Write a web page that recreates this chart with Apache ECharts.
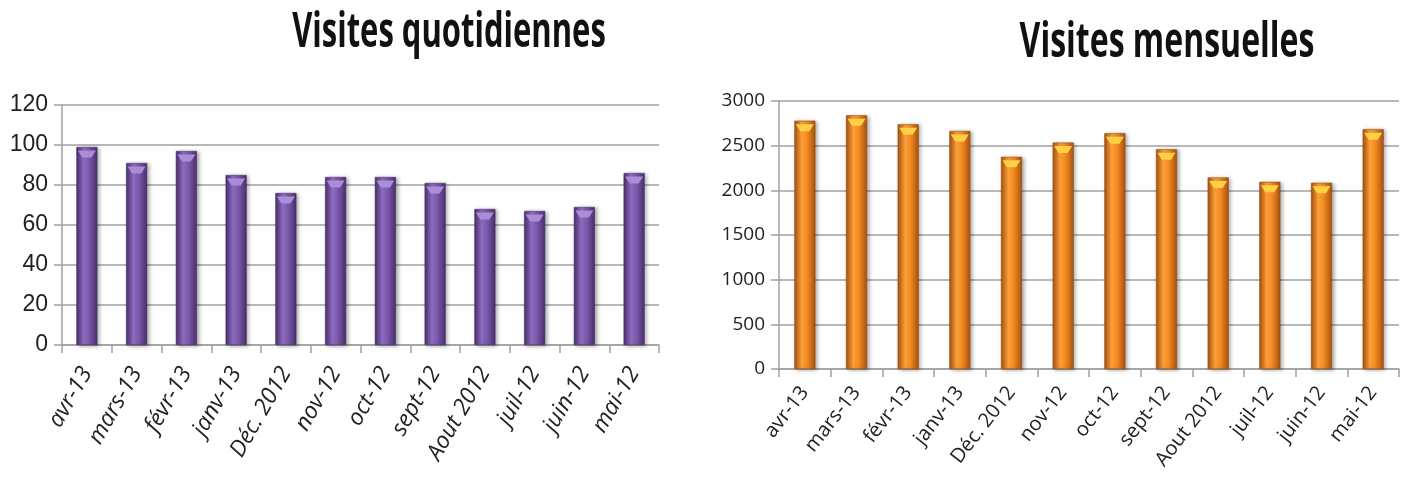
<!DOCTYPE html>
<html>
<head>
<meta charset="utf-8">
<title>Visites</title>
<script src="https://cdn.jsdelivr.net/npm/echarts@6/dist/echarts.min.js"></script>
<style>
  html, body { margin: 0; padding: 0; background: #fff; }
  #chart { width: 1406px; height: 485px; }
</style>
</head>
<body>
<div id="chart"></div>
<script>
  // mois, du plus récent au plus ancien
  var categories = ['avr-13', 'mars-13', 'févr-13', 'janv-13', 'Déc. 2012', 'nov-12',
    'oct-12', 'sept-12', 'Aout 2012', 'juil-12', 'juin-12', 'mai-12'];
  var dailyVisits = [99, 91, 97, 85, 76, 84, 84, 81, 68, 67, 69, 86];
  var monthlyVisits = [2780, 2840, 2740, 2665, 2375, 2535, 2640, 2460, 2145, 2095, 2085, 2685];

  var chart = echarts.init(document.getElementById('chart'));

  function barGradient(edge, mid, light) {
    return new echarts.graphic.LinearGradient(0, 0, 1, 0, [
      { offset: 0, color: edge },
      { offset: 0.35, color: light },
      { offset: 0.6, color: mid },
      { offset: 1, color: edge }
    ]);
  }

  var gridLine = { show: true, lineStyle: { color: '#a0a0a0', width: 1.5 } };
  var axisGray = { show: true, lineStyle: { color: '#a0a0a0', width: 1.5 } };
  var tickGray = { show: true, length: 8, lineStyle: { color: '#a0a0a0', width: 1.5 } };
  var capPath = 'path://M0,0 L10,0 L7.5,6 L2.5,6 Z';

  chart.setOption({
    animation: false,
    // titres étirés en hauteur comme dans l'original
    graphic: [{
      type: 'text', x: 449, y: 33, scaleY: 1.55,
      style: {
        text: 'Visites quotidiennes', textAlign: 'center', textVerticalAlign: 'middle',
        font: 'bold 31px "Open Sans"', fill: '#111'
      }
    }, {
      type: 'text', x: 1167, y: 43, scaleY: 1.5,
      style: {
        text: 'Visites mensuelles', textAlign: 'center', textVerticalAlign: 'middle',
        font: 'bold 32px "Open Sans"', fill: '#111'
      }
    }],
    grid: [
      { left: 62, right: 747, top: 105, bottom: 140 },
      { left: 779, right: 7, top: 101, bottom: 116 }
    ],
    xAxis: [{
      gridIndex: 0, type: 'category', data: categories,
      axisLine: axisGray, axisTick: tickGray,
      axisLabel: {
        rotate: 60, interval: 0, margin: 24,
        fontFamily: 'Open Sans', fontStyle: 'italic', fontSize: 23, color: '#222'
      }
    }, {
      gridIndex: 1, type: 'category', data: categories,
      axisLine: axisGray, axisTick: tickGray,
      axisLabel: {
        rotate: 52, interval: 0, margin: 20,
        fontFamily: 'Open Sans', fontSize: 20, color: '#222'
      }
    }],
    yAxis: [{
      gridIndex: 0, type: 'value', min: 0, max: 120, interval: 20,
      axisLine: axisGray, axisTick: tickGray,
      splitLine: gridLine,
      axisLabel: { margin: 14, fontFamily: 'Liberation Sans', fontSize: 23, color: '#222' }
    }, {
      gridIndex: 1, type: 'value', min: 0, max: 3000, interval: 500,
      axisLine: axisGray, axisTick: tickGray,
      splitLine: gridLine,
      axisLabel: {
        margin: 14, fontFamily: 'Open Sans', fontSize: 19, color: '#222',
        formatter: function (v) { return String(v); }
      }
    }],
    series: [{
      name: 'Visites quotidiennes', type: 'bar',
      xAxisIndex: 0, yAxisIndex: 0,
      barWidth: 21,
      data: dailyVisits,
      itemStyle: {
        color: barGradient('#4a2f6c', '#7a59ab', '#8d6cc0'),
        borderColor: '#3f2860', borderWidth: 0.5,
        shadowColor: 'rgba(0,0,0,0.35)', shadowBlur: 4, shadowOffsetX: 2, shadowOffsetY: 1
      }
    }, {
      type: 'pictorialBar',
      xAxisIndex: 0, yAxisIndex: 0,
      symbol: capPath, symbolSize: [18, 7], symbolPosition: 'end',
      symbolOffset: [0, '50%'],
      data: dailyVisits,
      itemStyle: { color: '#ab8cd8' },
      z: 3
    }, {
      name: 'Visites mensuelles', type: 'bar',
      xAxisIndex: 1, yAxisIndex: 1,
      barWidth: 21,
      data: monthlyVisits,
      itemStyle: {
        color: barGradient('#a8520e', '#f38b22', '#fc9f3a'),
        borderColor: '#8f470c', borderWidth: 0.5,
        shadowColor: 'rgba(0,0,0,0.35)', shadowBlur: 4, shadowOffsetX: 2, shadowOffsetY: 1
      }
    }, {
      type: 'pictorialBar',
      xAxisIndex: 1, yAxisIndex: 1,
      symbol: capPath, symbolSize: [18, 7], symbolPosition: 'end',
      symbolOffset: [0, '50%'],
      data: monthlyVisits,
      itemStyle: { color: '#ffcf45' },
      z: 3
    }]
  });
</script>
</body>
</html>
